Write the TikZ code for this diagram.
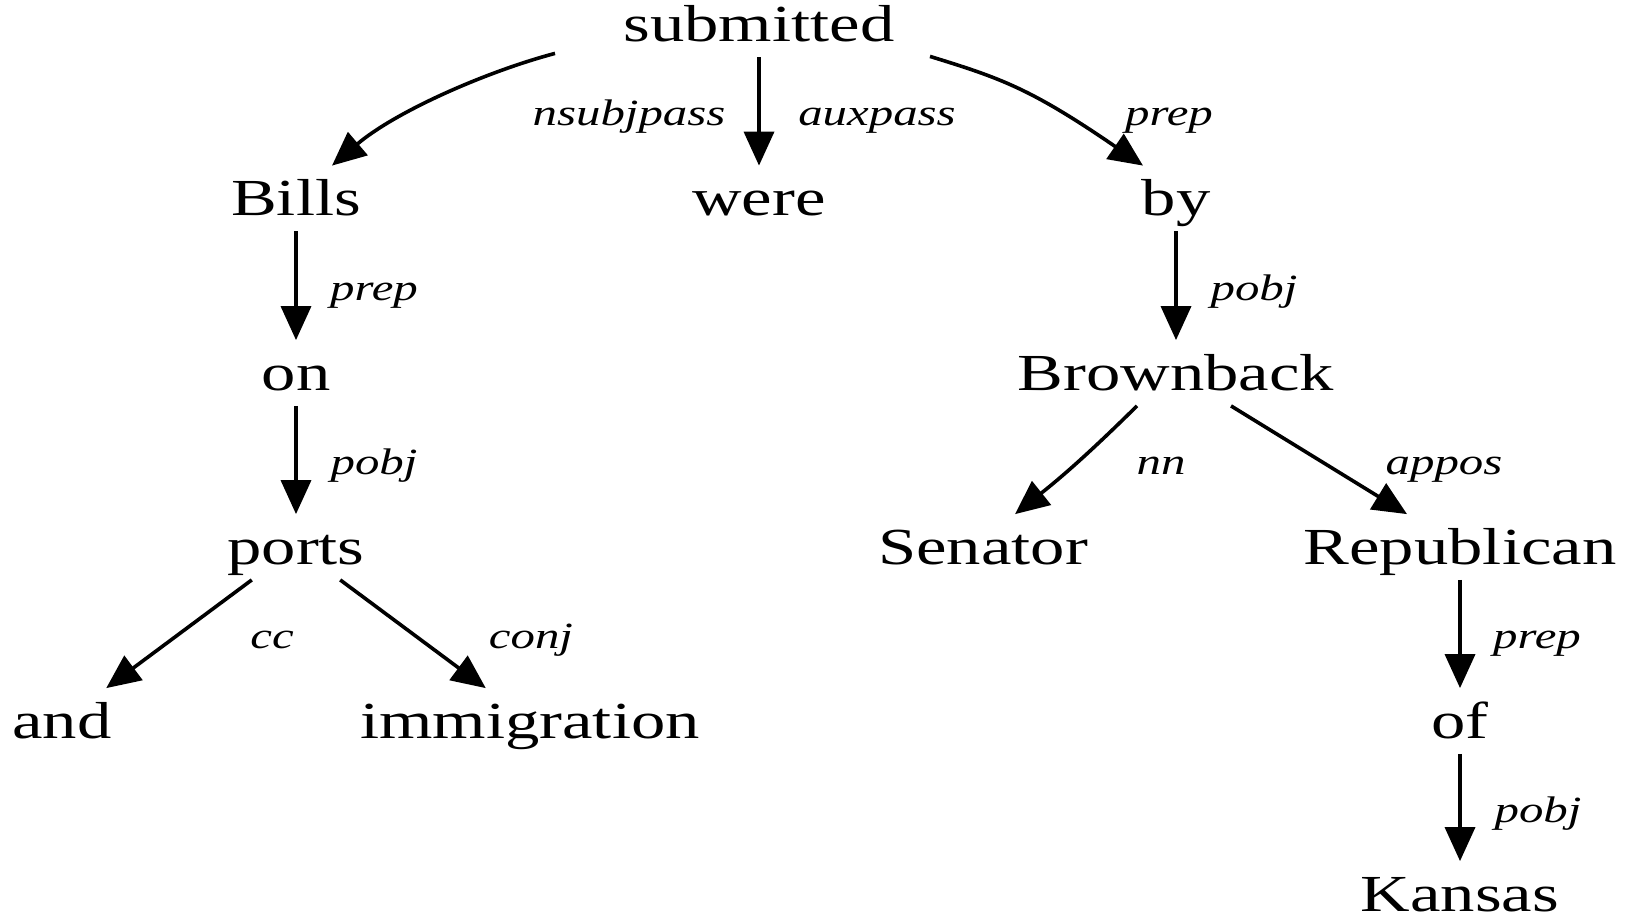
\documentclass[tikz,border=0pt]{standalone}
\usepackage{fontspec}
\setmainfont{Liberation Serif}[FakeStretch=1.32]
\usetikzlibrary{arrows.meta,calc}

\begin{document}
\begin{tikzpicture}[x=0.5pt,y=-0.5pt,
  word/.style={anchor=base, font=\fontsize{26}{30}\selectfont,
    text height=22.5pt, text depth=5.5pt, inner xsep=0pt, inner ysep=2.25pt},
  rel/.style={anchor=base, font=\fontsize{18.5}{22}\selectfont\itshape, inner sep=0pt},
  dep/.style={-{Triangle[length=17pt,width=15pt]}, line width=1.8pt}]

\useasboundingbox (0,0) rectangle (1625,917);

% words of the sentence
\node[word] (submitted)   at (759,41.5) {submitted};
\node[word] (bills)       at (296,215.5) {Bills};
\node[word] (were)        at (759,215.5) {were};
\node[word] (by)          at (1176,215.5) {by};
\node[word] (on)          at (296,390) {on};
\node[word] (brownback)   at (1176,390) {Brownback};
\node[word] (ports)       at (296,564) {ports};
\node[word] (senator)     at (983,564) {Senator};
\node[word] (republican)  at (1460,564) {Republican};
\node[word] (and)         at (62,738) {and};
\node[word] (immigration) at (530,738) {immigration};
\node[word] (of)          at (1460,738) {of};
\node[word] (kansas)      at (1460,911) {Kansas};

% dependency arcs
\draw[dep] ($(submitted.south)+(-204,-4)$) .. controls (485,72) and (395,112) .. ($(bills.north)+(36,0)$);
\draw[dep] (submitted.south) -- (were.north);
\draw[dep] ($(submitted.south)+(171,-1)$) .. controls (1000,78) and (1030,88) .. ($(by.north)+(-33,0)$);
\draw[dep] (bills.south) -- (on.north);
\draw[dep] (on.south) -- (ports.north);
\draw[dep] (ports) -- (and);
\draw[dep] (ports) -- (immigration);
\draw[dep] (by.south) -- (brownback.north);
\draw[dep] ($(brownback.south)+(-39,0)$) to[bend left=3] ($(senator.north)+(32,0)$);
\draw[dep] ($(brownback.south)+(55,0)$) -- ($(republican.north)+(-53,0)$);
\draw[dep] (republican.south) -- (of.north);
\draw[dep] (of.south) -- (kansas.north);

% relation labels
\node[rel] (r-nsubjpass) at (629,125) {nsubjpass};
\node[rel] (r-auxpass)   at (877,125) {auxpass};
\node[rel] (r-prep1)     at (1169,125) {prep};
\node[rel] (r-prep2)     at (374,300) {prep};
\node[rel] (r-pobj1)     at (1254,300) {pobj};
\node[rel] (r-pobj2)     at (374,474) {pobj};
\node[rel] (r-nn)        at (1161,474) {nn};
\node[rel] (r-appos)     at (1444,474) {appos};
\node[rel] (r-cc)        at (272,648) {cc};
\node[rel] (r-conj)      at (531,648) {conj};
\node[rel] (r-prep3)     at (1537,648) {prep};
\node[rel] (r-pobj3)     at (1538,822) {pobj};
\end{tikzpicture}
\end{document}
